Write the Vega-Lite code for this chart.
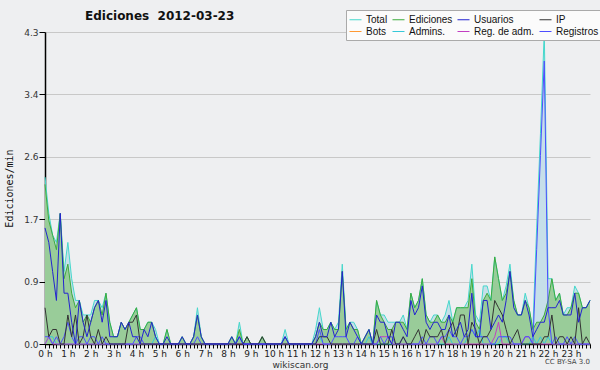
{
"$schema": "https://vega.github.io/schema/vega-lite/v6.json",
"width": 545, "height": 312,
"autosize": {"type": "none"},
"padding": {"left": 45, "top": 32, "right": 10, "bottom": 26},
"background": "#eeeff1",
"title": {"text": "Ediciones\u00a0 2012-03-23", "anchor": "start", "frame": "group", "dx": 40, "offset": -13, "font": "DejaVu Sans", "fontSize": 12, "fontWeight": "bold", "color": "#111"},
"config": {"view": {"stroke": null}},
"datasets": {
"d": [
{"m":0,"T":2.3,"E":2.2,"U":1.6,"I":0.5,"R":0.1,"A":0,"M":0},
{"m":10,"T":1.8,"E":1.7,"U":1.4,"I":0.1,"R":0.1,"A":0.1,"M":0.1},
{"m":20,"T":1.5,"E":1.5,"U":1.0,"I":0.2,"R":0,"A":0.1,"M":0},
{"m":30,"T":1.4,"E":1.3,"U":0.6,"I":0.2,"R":0.1,"A":0,"M":0},
{"m":40,"T":1.8,"E":1.8,"U":1.8,"I":0,"R":0,"A":0,"M":0},
{"m":50,"T":1.0,"E":0.9,"U":0.7,"I":0,"R":0.1,"A":0,"M":0},
{"m":60,"T":1.4,"E":1.1,"U":0.7,"I":0.4,"R":0.3,"A":0,"M":0},
{"m":70,"T":0.9,"E":0.7,"U":0.3,"I":0.1,"R":0.1,"A":0,"M":0},
{"m":80,"T":0.6,"E":0.5,"U":0,"I":0.4,"R":0,"A":0,"M":0},
{"m":90,"T":0.6,"E":0.6,"U":0.6,"I":0,"R":0.1,"A":0,"M":0},
{"m":100,"T":0.4,"E":0.3,"U":0.3,"I":0.1,"R":0.1,"A":0,"M":0},
{"m":110,"T":0.4,"E":0.4,"U":0.1,"I":0.4,"R":0,"A":0,"M":0},
{"m":120,"T":0.4,"E":0.3,"U":0.3,"I":0.1,"R":0.1,"A":0,"M":0},
{"m":130,"T":0.6,"E":0.5,"U":0.5,"I":0,"R":0.1,"A":0,"M":0},
{"m":140,"T":0.6,"E":0.6,"U":0.6,"I":0.2,"R":0,"A":0,"M":0},
{"m":150,"T":0.5,"E":0.4,"U":0.3,"I":0,"R":0.1,"A":0,"M":0},
{"m":160,"T":0.7,"E":0.7,"U":0.6,"I":0.1,"R":0,"A":0,"M":0},
{"m":170,"T":0.3,"E":0.3,"U":0.1,"I":0,"R":0,"A":0,"M":0},
{"m":180,"T":0.1,"E":0.1,"U":0.1,"I":0,"R":0,"A":0,"M":0},
{"m":190,"T":0.1,"E":0.1,"U":0.1,"I":0,"R":0,"A":0,"M":0},
{"m":200,"T":0.3,"E":0.3,"U":0.3,"I":0,"R":0,"A":0,"M":0},
{"m":210,"T":0.2,"E":0.2,"U":0.2,"I":0,"R":0,"A":0,"M":0},
{"m":220,"T":0.3,"E":0.3,"U":0.3,"I":0.3,"R":0,"A":0,"M":0},
{"m":230,"T":0.4,"E":0.4,"U":0.1,"I":0.3,"R":0,"A":0,"M":0},
{"m":240,"T":0.5,"E":0.5,"U":0.1,"I":0.4,"R":0.1,"A":0,"M":0},
{"m":250,"T":0.2,"E":0.2,"U":0,"I":0,"R":0.1,"A":0,"M":0},
{"m":260,"T":0.2,"E":0.2,"U":0.2,"I":0,"R":0,"A":0,"M":0},
{"m":270,"T":0.3,"E":0.3,"U":0.1,"I":0,"R":0,"A":0,"M":0},
{"m":280,"T":0.3,"E":0.3,"U":0.3,"I":0,"R":0,"A":0,"M":0},
{"m":290,"T":0.2,"E":0.1,"U":0.1,"I":0,"R":0,"A":0.1,"M":0},
{"m":300,"T":0,"E":0,"U":0,"I":0,"R":0,"A":0,"M":0},
{"m":310,"T":0,"E":0,"U":0,"I":0,"R":0,"A":0,"M":0},
{"m":320,"T":0.2,"E":0.2,"U":0.1,"I":0,"R":0,"A":0,"M":0},
{"m":330,"T":0,"E":0,"U":0,"I":0,"R":0,"A":0,"M":0},
{"m":340,"T":0,"E":0,"U":0,"I":0,"R":0,"A":0,"M":0},
{"m":350,"T":0,"E":0,"U":0,"I":0,"R":0,"A":0,"M":0},
{"m":360,"T":0.1,"E":0.1,"U":0.1,"I":0,"R":0,"A":0,"M":0},
{"m":370,"T":0,"E":0,"U":0,"I":0,"R":0,"A":0,"M":0},
{"m":380,"T":0,"E":0,"U":0,"I":0,"R":0,"A":0,"M":0},
{"m":390,"T":0.1,"E":0.1,"U":0.1,"I":0,"R":0,"A":0,"M":0},
{"m":400,"T":0.5,"E":0.4,"U":0.4,"I":0,"R":0.1,"A":0,"M":0},
{"m":410,"T":0.1,"E":0.1,"U":0.1,"I":0,"R":0,"A":0,"M":0},
{"m":420,"T":0,"E":0,"U":0,"I":0,"R":0,"A":0,"M":0},
{"m":430,"T":0,"E":0,"U":0,"I":0,"R":0,"A":0,"M":0},
{"m":440,"T":0,"E":0,"U":0,"I":0,"R":0,"A":0,"M":0},
{"m":450,"T":0,"E":0,"U":0,"I":0,"R":0,"A":0,"M":0},
{"m":460,"T":0,"E":0,"U":0,"I":0,"R":0,"A":0,"M":0},
{"m":470,"T":0,"E":0,"U":0,"I":0,"R":0,"A":0,"M":0},
{"m":480,"T":0,"E":0,"U":0,"I":0,"R":0,"A":0,"M":0},
{"m":490,"T":0.1,"E":0.1,"U":0.1,"I":0,"R":0,"A":0,"M":0},
{"m":500,"T":0,"E":0,"U":0,"I":0,"R":0,"A":0,"M":0},
{"m":510,"T":0.3,"E":0.2,"U":0.1,"I":0,"R":0.1,"A":0.1,"M":0},
{"m":520,"T":0,"E":0,"U":0,"I":0,"R":0,"A":0,"M":0},
{"m":530,"T":0.1,"E":0.1,"U":0,"I":0.1,"R":0,"A":0,"M":0},
{"m":540,"T":0,"E":0,"U":0,"I":0,"R":0,"A":0,"M":0},
{"m":550,"T":0,"E":0,"U":0,"I":0,"R":0,"A":0,"M":0},
{"m":560,"T":0,"E":0,"U":0,"I":0,"R":0,"A":0,"M":0},
{"m":570,"T":0.1,"E":0.1,"U":0,"I":0.1,"R":0,"A":0,"M":0},
{"m":580,"T":0,"E":0,"U":0,"I":0,"R":0,"A":0,"M":0},
{"m":590,"T":0,"E":0,"U":0,"I":0,"R":0,"A":0,"M":0},
{"m":600,"T":0,"E":0,"U":0,"I":0,"R":0,"A":0,"M":0},
{"m":610,"T":0,"E":0,"U":0,"I":0,"R":0,"A":0,"M":0},
{"m":620,"T":0,"E":0,"U":0,"I":0,"R":0,"A":0,"M":0},
{"m":630,"T":0.2,"E":0.1,"U":0.1,"I":0,"R":0.1,"A":0,"M":0},
{"m":640,"T":0,"E":0,"U":0,"I":0,"R":0,"A":0,"M":0},
{"m":650,"T":0,"E":0,"U":0,"I":0,"R":0,"A":0,"M":0},
{"m":660,"T":0,"E":0,"U":0,"I":0,"R":0,"A":0,"M":0},
{"m":670,"T":0,"E":0,"U":0,"I":0,"R":0,"A":0,"M":0},
{"m":680,"T":0,"E":0,"U":0,"I":0,"R":0,"A":0,"M":0},
{"m":690,"T":0,"E":0,"U":0,"I":0,"R":0,"A":0,"M":0},
{"m":700,"T":0,"E":0,"U":0,"I":0,"R":0,"A":0,"M":0},
{"m":710,"T":0.2,"E":0.1,"U":0.1,"I":0,"R":0,"A":0,"M":0},
{"m":720,"T":0.5,"E":0.3,"U":0.3,"I":0.1,"R":0.2,"A":0.1,"M":0},
{"m":730,"T":0.2,"E":0.2,"U":0.1,"I":0.1,"R":0,"A":0,"M":0},
{"m":740,"T":0.2,"E":0.2,"U":0.1,"I":0.1,"R":0,"A":0,"M":0},
{"m":750,"T":0.3,"E":0.3,"U":0.3,"I":0,"R":0,"A":0,"M":0},
{"m":760,"T":0.2,"E":0.2,"U":0.1,"I":0,"R":0.1,"A":0,"M":0},
{"m":770,"T":0.3,"E":0.2,"U":0.2,"I":0,"R":0.1,"A":0,"M":0},
{"m":780,"T":1.1,"E":1.0,"U":1.0,"I":0,"R":0.1,"A":0,"M":0},
{"m":790,"T":0.2,"E":0.2,"U":0.1,"I":0,"R":0.1,"A":0,"M":0},
{"m":800,"T":0.3,"E":0.3,"U":0.3,"I":0,"R":0,"A":0,"M":0},
{"m":810,"T":0.3,"E":0.2,"U":0.2,"I":0,"R":0,"A":0,"M":0},
{"m":820,"T":0.2,"E":0.2,"U":0.1,"I":0,"R":0.1,"A":0,"M":0},
{"m":830,"T":0,"E":0,"U":0,"I":0,"R":0,"A":0,"M":0},
{"m":840,"T":0.1,"E":0.1,"U":0.1,"I":0,"R":0,"A":0,"M":0},
{"m":850,"T":0.2,"E":0.2,"U":0.2,"I":0,"R":0,"A":0.1,"M":0},
{"m":860,"T":0,"E":0,"U":0,"I":0,"R":0,"A":0,"M":0},
{"m":870,"T":0.6,"E":0.6,"U":0.4,"I":0.2,"R":0,"A":0,"M":0},
{"m":880,"T":0.4,"E":0.4,"U":0.3,"I":0,"R":0.1,"A":0,"M":0.1},
{"m":890,"T":0.4,"E":0.3,"U":0.3,"I":0,"R":0,"A":0,"M":0.1},
{"m":900,"T":0.3,"E":0.2,"U":0.1,"I":0,"R":0.1,"A":0,"M":0.1},
{"m":910,"T":0.3,"E":0.2,"U":0,"I":0.2,"R":0.1,"A":0,"M":0},
{"m":920,"T":0.3,"E":0.3,"U":0.3,"I":0,"R":0,"A":0,"M":0},
{"m":930,"T":0.3,"E":0.3,"U":0.3,"I":0,"R":0,"A":0,"M":0},
{"m":940,"T":0.4,"E":0.3,"U":0.2,"I":0.1,"R":0.1,"A":0,"M":0},
{"m":950,"T":0.2,"E":0.2,"U":0.1,"I":0,"R":0,"A":0,"M":0},
{"m":960,"T":0.7,"E":0.7,"U":0.6,"I":0,"R":0,"A":0,"M":0},
{"m":970,"T":0.5,"E":0.5,"U":0.4,"I":0.1,"R":0,"A":0,"M":0},
{"m":980,"T":0.6,"E":0.6,"U":0.5,"I":0.2,"R":0,"A":0,"M":0},
{"m":990,"T":0.9,"E":0.9,"U":0.8,"I":0,"R":0.1,"A":0,"M":0},
{"m":1000,"T":0.4,"E":0.4,"U":0.3,"I":0.2,"R":0,"A":0,"M":0},
{"m":1010,"T":0.3,"E":0.3,"U":0.2,"I":0.1,"R":0.1,"A":0,"M":0},
{"m":1020,"T":0.4,"E":0.3,"U":0.3,"I":0.1,"R":0.1,"A":0,"M":0},
{"m":1030,"T":0.4,"E":0.4,"U":0.3,"I":0.1,"R":0,"A":0,"M":0},
{"m":1040,"T":0.3,"E":0.3,"U":0.2,"I":0.2,"R":0.1,"A":0,"M":0.1},
{"m":1050,"T":0.4,"E":0.3,"U":0.2,"I":0,"R":0.1,"A":0,"M":0},
{"m":1060,"T":0.6,"E":0.4,"U":0.4,"I":0.2,"R":0.2,"A":0.1,"M":0},
{"m":1070,"T":0.3,"E":0.3,"U":0.1,"I":0.3,"R":0.1,"A":0,"M":0},
{"m":1080,"T":0.5,"E":0.5,"U":0.2,"I":0.1,"R":0.1,"A":0,"M":0},
{"m":1090,"T":0.5,"E":0.5,"U":0.3,"I":0.4,"R":0,"A":0,"M":0},
{"m":1100,"T":0.5,"E":0.5,"U":0.1,"I":0.4,"R":0.1,"A":0,"M":0},
{"m":1110,"T":0.6,"E":0.5,"U":0.2,"I":0,"R":0.1,"A":0.1,"M":0},
{"m":1120,"T":1.1,"E":0.9,"U":0.7,"I":0.3,"R":0.2,"A":0.2,"M":0},
{"m":1130,"T":0.4,"E":0.3,"U":0.1,"I":0.2,"R":0.1,"A":0.1,"M":0},
{"m":1140,"T":0.3,"E":0.2,"U":0.1,"I":0,"R":0.1,"A":0.2,"M":0},
{"m":1150,"T":0.8,"E":0.6,"U":0.6,"I":0.1,"R":0.1,"A":0,"M":0},
{"m":1160,"T":0.8,"E":0.7,"U":0.6,"I":0.1,"R":0.1,"A":0,"M":0},
{"m":1170,"T":0.6,"E":0.6,"U":0.2,"I":0.2,"R":0,"A":0,"M":0},
{"m":1180,"T":1.2,"E":1.2,"U":0.3,"I":0.6,"R":0,"A":0,"M":0.1},
{"m":1190,"T":0.9,"E":0.9,"U":0.4,"I":0.5,"R":0.1,"A":0,"M":0.3},
{"m":1200,"T":0.6,"E":0.6,"U":0.3,"I":0.4,"R":0.1,"A":0.1,"M":0},
{"m":1210,"T":0.8,"E":0.7,"U":0.6,"I":0.2,"R":0.1,"A":0.1,"M":0},
{"m":1220,"T":1.1,"E":1.0,"U":1.0,"I":0,"R":0.1,"A":0,"M":0},
{"m":1230,"T":0.6,"E":0.6,"U":0.5,"I":0.1,"R":0,"A":0,"M":0},
{"m":1240,"T":0.4,"E":0.4,"U":0.4,"I":0.2,"R":0,"A":0,"M":0},
{"m":1250,"T":0.4,"E":0.4,"U":0.4,"I":0,"R":0,"A":0,"M":0},
{"m":1260,"T":0.7,"E":0.6,"U":0.6,"I":0,"R":0.1,"A":0,"M":0.1},
{"m":1270,"T":0.5,"E":0.5,"U":0.4,"I":0,"R":0.1,"A":0,"M":0.1},
{"m":1280,"T":0.2,"E":0.2,"U":0.1,"I":0,"R":0,"A":0.1,"M":0},
{"m":1290,"T":1.6,"E":0.3,"U":0.2,"I":0,"R":1.3,"A":0,"M":0},
{"m":1300,"T":2.9,"E":0.3,"U":0.3,"I":0,"R":2.6,"A":0.1,"M":0},
{"m":1310,"T":4.3,"E":0.4,"U":0.3,"I":0.1,"R":3.9,"A":0,"M":0},
{"m":1320,"T":0.9,"E":0.6,"U":0.5,"I":0.1,"R":0.5,"A":0.1,"M":0},
{"m":1330,"T":0.9,"E":0.9,"U":0.5,"I":0.4,"R":0,"A":0,"M":0},
{"m":1340,"T":0.6,"E":0.6,"U":0.5,"I":0,"R":0.1,"A":0,"M":0},
{"m":1350,"T":0.7,"E":0.7,"U":0.6,"I":0.1,"R":0,"A":0,"M":0},
{"m":1360,"T":0.4,"E":0.4,"U":0.4,"I":0.1,"R":0,"A":0,"M":0},
{"m":1370,"T":0.5,"E":0.4,"U":0.4,"I":0,"R":0.1,"A":0,"M":0},
{"m":1380,"T":0.5,"E":0.5,"U":0.4,"I":0.1,"R":0,"A":0,"M":0},
{"m":1390,"T":0.8,"E":0.7,"U":0.7,"I":0,"R":0.1,"A":0,"M":0},
{"m":1400,"T":0.7,"E":0.7,"U":0.3,"I":0.5,"R":0,"A":0,"M":0},
{"m":1410,"T":0.5,"E":0.5,"U":0.5,"I":0,"R":0,"A":0,"M":0},
{"m":1420,"T":0.5,"E":0.5,"U":0.5,"I":0.1,"R":0,"A":0,"M":0},
{"m":1430,"T":0.6,"E":0.6,"U":0.6,"I":0,"R":0,"A":0,"M":0}
],
"cc": [{"txt": "CC BY-SA 3.0", "m": 1430, "y": -0.25}]
},
"data": {"name": "d"},
"encoding": {
  "x": {"field": "m", "type": "quantitative", "scale": {"domain": [0, 1430], "nice": false, "zero": false},
    "axis": {"values": [0,10,20,30,40,50,60,70,80,90,100,110,120,130,140,150,160,170,180,190,200,210,220,230,240,250,260,270,280,290,300,310,320,330,340,350,360,370,380,390,400,410,420,430,440,450,460,470,480,490,500,510,520,530,540,550,560,570,580,590,600,610,620,630,640,650,660,670,680,690,700,710,720,730,740,750,760,770,780,790,800,810,820,830,840,850,860,870,880,890,900,910,920,930,940,950,960,970,980,990,1000,1010,1020,1030,1040,1050,1060,1070,1080,1090,1100,1110,1120,1130,1140,1150,1160,1170,1180,1190,1200,1210,1220,1230,1240,1250,1260,1270,1280,1290,1300,1310,1320,1330,1340,1350,1360,1370,1380,1390,1400,1410,1420,1430],
      "labelExpr": "datum.value % 60 == 0 ? (datum.value / 60) + ' h' : ''",
      "labelOverlap": false, "labelFlush": false,
      "grid": false, "tickSize": 4, "tickColor": "#000", "domainColor": "#000", "domainWidth": 1.5,
      "labelFont": "DejaVu Sans", "labelFontSize": 9, "labelColor": "#222", "labelPadding": 1,
      "title": "wikiscan.org", "titleFont": "DejaVu Sans", "titleFontSize": 9, "titleFontWeight": "normal", "titleColor": "#333", "titlePadding": 2, "titleX": 255}
  }
},
"layer": [
  {"mark": {"type": "area", "color": "#c6dfe9"},
   "encoding": {"y": {"field": "T", "type": "quantitative", "title": "Ediciones/min", "scale": {"domain": [0, 4.3], "nice": false, "zero": true},
     "axis": {"values": [0,0.215,0.43,0.645,0.86,1.075,1.29,1.505,1.72,1.935,2.15,2.365,2.58,2.795,3.01,3.225,3.44,3.655,3.87,4.085,4.3],
       "labelExpr": "abs(datum.value/0.86 - round(datum.value/0.86)) < 0.01 ? format(datum.value, '.1f') : ''",
       "grid": true, "gridColor": "#c8c8c8",
       "gridOpacity": {"condition": {"test": "abs(datum.value/0.86 - round(datum.value/0.86)) < 0.01", "value": 1}, "value": 0},
       "tickSize": {"condition": {"test": "abs(datum.value/0.86 - round(datum.value/0.86)) < 0.01", "value": 6}, "value": 3},
       "tickColor": "#000", "domainColor": "#000", "domainWidth": 1.5, "labelOverlap": false,
       "labelFont": "DejaVu Sans", "labelFontSize": 9, "labelColor": "#333", "labelPadding": 1,
       "titleFont": "DejaVu Sans Mono", "titleFontSize": 10, "titleFontWeight": "normal", "titleColor": "#111", "titlePadding": 9}}}},
  {"mark": {"type": "area", "color": "#99cc99"},
   "encoding": {"y": {"field": "E", "type": "quantitative", "title": "Ediciones/min"}}},
  {"transform": [{"fold": ["T", "E", "A", "M", "R", "I", "U"], "as": ["k", "v"]}],
   "mark": {"type": "line", "strokeWidth": 1},
   "encoding": {
     "y": {"field": "v", "type": "quantitative", "title": "Ediciones/min"},
     "color": {"field": "k", "type": "nominal",
       "scale": {"domain": ["T", "E", "U", "I", "B", "A", "M", "R"], "range": ["#45d8cc", "#3dab3d", "#2323d0", "#333333", "#ff9933", "#36c8d8", "#c23ec2", "#4e4eff"]},
       "legend": {"orient": "none", "legendX": 301, "legendY": -22, "columns": 4, "direction": "horizontal", "title": null,
         "symbolType": "stroke", "symbolSize": 144, "symbolStrokeWidth": 1, "symbolOpacity": 1,
         "labelFont": "Liberation Sans", "labelFontSize": 10, "labelColor": "#111", "labelOffset": 4,
         "fillColor": "#fbfbfb", "strokeColor": "#aaaaaa", "padding": 3, "rowPadding": 0, "columnPadding": 2,
         "labelExpr": "{'T':'Total','E':'Ediciones','U':'Usuarios','I':'IP','B':'Bots','A':'Admins.','M':'Reg. de adm.','R':'Registros'}[datum.label]"}}}},
  {"data": {"name": "cc"},
   "mark": {"type": "text", "align": "right", "baseline": "middle", "font": "DejaVu Sans", "fontSize": 7, "color": "#444"},
   "encoding": {"y": {"field": "y", "type": "quantitative"}, "text": {"field": "txt"}}}
]
}
